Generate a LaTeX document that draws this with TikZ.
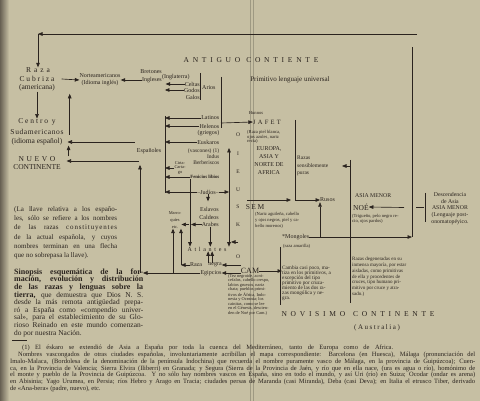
\documentclass[tikz,border=0pt]{standalone}
\usepackage{fontspec}
\setmainfont{Liberation Serif}
\usetikzlibrary{arrows.meta,positioning}
\definecolor{paper}{RGB}{198,191,163}
\definecolor{inkc}{RGB}{42,35,30}
\newcommand{\fs}[2]{\fontsize{#1}{#2}\selectfont}
\newcommand{\spaced}[2]{{\addfontfeature{LetterSpace=#1}#2}}
\newcommand{\jl}[2]{\hbox to #1{#2}}
\tikzset{
  ink/.style={draw=inkc, line width=0.65pt},
  arr/.style={ink, -{Triangle[length=4.5pt,width=3.6pt]}},
  txt/.style={inner sep=0pt, text=inkc},
  mid/.style={txt, font=\fs{7.5}{8}},
  sm/.style={txt, font=\fs{6}{7}},
  tiny/.style={txt, font=\fs{4.6}{4.8}, align=left, anchor=north west},
}
\begin{document}
\begin{tikzpicture}[x=1pt,y=-1pt]
\useasboundingbox (0,0) rectangle (480,401);
\fill[paper] (0,0) rectangle (480,401);
\shade[left color=inkc!60!paper, right color=paper] (0,0) rectangle (9,401);
\draw[paper!80!black, line width=0.4pt] (250,0) -- (250,401) (253,0) -- (253,401);

% frame points
\coordinate (topR) at (417,34);
\coordinate (topL) at (38,34);
\coordinate (vtop) at (412,47);
\coordinate (brk) at (165,150);
\coordinate (dl) at (190,0);
\coordinate (vl) at (229,0);
\coordinate (up1) at (173,0);
\coordinate (up2) at (181,0);
\coordinate (sx) at (140,0);
\coordinate (jr) at (295,120);
\coordinate (nb) at (350,0);
\coordinate (arj) at (221,123);
\coordinate (mu) at (320,237);

% new continent
\node[mid] (raza) at (38,70) {\spaced{40}{Raza}};
\node[mid] (cubriza) at (37,79) {\spaced{25}{Cubriza}};
\node[mid] (americana) at (37,88) {(americana)};
\node[mid] (centro) at (37,122) {\spaced{25}{Centro y}};
\node[mid] (sudam) at (37,132) {\spaced{8}{Sudamericanos}};
\node[mid] (idesp) at (37,142) {(idioma español)};
\node[mid] (nuevo) at (37,159) {\spaced{35}{NUEVO}};
\node[mid] (contin) at (37,167) {CONTINENTE};
\node[sm, align=center] (norteam) at (100,80) {Norteamericanos\\(Idioma inglés)};

% Arios
\node[sm, anchor=east] (bret) at (162,72) {Bretones};
\node[sm, anchor=east] (ingl) at (162,80) {Ingleses};
\node[sm, anchor=west] (inglat) at (162,77) {(Inglaterra)};
\node[sm, anchor=east] (celtas) at (200,84) {Celtas};
\node[sm, anchor=east] (godos) at (200,90) {Godos};
\node[sm, anchor=east] (galos) at (200,97) {Galos};
\node[sm, anchor=west] (arios) at (202,88) {Arios};
\draw[ink] (200.5,73) -- (200.5,100);
\draw[ink] (221,77) -- (221,128);

% races of Spain
\node[mid] (esp) at (149,151) {\fs{6}{7}Españoles};
\node[sm, anchor=east] (latinos) at (219.5,118) {Latinos};
\node[sm, anchor=east] (helenos) at (219.5,126) {Helenos};
\node[sm, anchor=east] (griegos) at (219.5,133) {(griegos)};
\node[sm, anchor=east] (euskaros) at (219.5,142) {Euskaros};
\node[sm, anchor=east, font=\fs{5.5}{6}] (vascones) at (219.5,151.5) {(vascones) (1)};
\node[sm, anchor=east, font=\fs{5.5}{6}] (indus) at (219.5,157) {Indus};
\node[sm, anchor=east, font=\fs{5.5}{6}] (berber) at (219.5,163) {Berberiscos};
\node[tiny, anchor=center, align=center, font=\fs{4.4}{4.7}] (cirta) at (180,168) {Cirta-\\Carta-\\go};
\node[sm, anchor=east, font=\bfseries\fs{4.8}{5}] (fenic) at (219.5,177) {Fenicios libios};
\node[sm] (judios) at (208,192) {–Judíos–};
\node[sm, anchor=east] (eslavos) at (219,209) {Eslavos};
\node[sm, anchor=east] (caldeos) at (219,217) {Caldeos};
\node[sm, anchor=east] (arabes) at (219,224.5) {Arabes};
\node[tiny, anchor=center, align=center, font=\fs{4.4}{7}] (marro) at (175,220) {Marro-\\quíes\\etc.};
\node[sm] (atlant) at (207,249) {\spaced{45}{Atlantes}};
\node[sm] (raza2) at (196,265) {Raza};
\node[sm] (negra) at (215,265) {negra};
\node[sm] (egip) at (211,273) {Egipcios};
\foreach \l/\y in {O/135,I/154,E/172,U/190,S/207,K/225,O/257}
  \node[txt, font=\fs{5.5}{6}] at (238,\y) {\l};

\draw[ink] (165,116) -- (165,193);
\foreach \r in {latinos,helenos,euskaros,cirta,fenic,judios}
  \draw[arr] (\r.west) -- (\r.west -| brk);
\draw[arr] (judios.east) -- (judios.east -| vl);
\draw[arr] (judios.south) -- ++(0,7);
\draw[arr] (arabes.west) -- ([xshift=1pt]arabes.west -| dl);
\draw[arr] ([xshift=-1pt]arabes.west -| dl) -- (arabes.west -| marro.east);
\draw[arr] (dl |- fenic.south) -- (dl |- atlant.north);
\draw[arr] (arabes.south) -- (arabes.south |- atlant.north);
\draw[ink, {Triangle[length=4.5pt,width=3.6pt]}-{Triangle[length=4.5pt,width=3.6pt]}] (vl |- 0,148) -- (vl |- atlant.north);
\draw[arr] (238,242) -- (231,242);
\draw[arr] (raza2.west) -- (raza2.west -| up2);
\draw[arr] (up2 |- raza2.west) -- (up2 |- marro.south);
\draw[arr] (up1 |- egip.west) -- (up1 |- marro.south);
\draw[arr] (negra.north west) -- (negra.north west |- atlant.south);
\draw[arr] ([xshift=4pt]negra.north west) -- ([xshift=4pt]negra.north west |- atlant.south);
\draw[arr] (egip.west) -- ([xshift=3pt]egip.west -| sx);
\draw[arr] (sx |- egip.west) -- ([yshift=-11pt]sx |- esp.south);

% Arios arrows
\draw[arr] (ingl.west) -- (norteam.east);
\draw[arr] (celtas.west) -- ++(-19,0);
\draw[arr] (godos.west) -- ++(-19,0);

% new continent arrows
\draw[arr] (topR) -- (topL);
\draw[arr] (topL) -- (raza.north);
\draw[arr] (americana.south) -- (centro.north);
\draw[arr] ([xshift=7pt]cubriza.east) -- (norteam.west);
\draw[arr] ([xshift=6pt]sudam.south east) -- ++(0,-41);
\draw[arr] ([shift={(-2pt,9pt)}]esp.west) -- ([xshift=5pt]idesp.east);
\draw[arr] ([shift={(2pt,-10pt)}]esp.west) -- ([shift={(11pt,-2pt)}]nuevo.east);
\draw[arr] ([xshift=13pt]nuevo.north east) -- ([xshift=13pt]nuevo.north east |- idesp.south);

% old continent
\node[txt, font=\fs{7.5}{8}] (antiguo) at (251,60) {\spaced{50}{ANTIGUO}\hspace{6pt}\spaced{50}{CONTIENTE}};
\node[txt, font=\fs{7}{8}] (primit) at (290,80) {Primitivo lenguaje universal};
\node[tiny, anchor=center, font=\fs{4.6}{5}] (hunnos) at (256,113) {Hunnos};
\node[mid, font=\fs{6.5}{7}] (jafet) at (267,122) {\spaced{35}{JAFET}};
\draw[arr] (arj) -- (jafet.west);
\node[tiny] (jdesc) at (247,130) {(Raza piel blanca,\\ojos azules, nariz\\recta)};
\node[sm, align=center, font=\fs{6}{7.7}] (europa) at (269,160.5) {EUROPA,\\ASIA Y\\NORTE DE\\AFRICA};
\node[sm, align=left, anchor=west, font=\fs{5.5}{7.5}] (puras) at (297,166) {Razas\\sensiblemente\\puras};
\node[sm, anchor=west] (rusos) at (320,200) {Rusos};
\node[mid] (sem) at (255,207) {\spaced{20}{SEM}};
\node[tiny, font=\fs{4.6}{6}] (sdesc) at (255,212) {(Nariz aguileña, cabello\\y ojos negros, piel y ca-\\bello morenos)};
\node[sm, anchor=west] (mong) at (282,237) {*Mongoles};
\node[tiny, anchor=west] (amar) at (283,246) {(raza amarilla)};
\draw[arr] (jr) |- (rusos.west);
\draw[arr, shorten >=4pt] (247,200) -- (jr |- 0,200);
\draw[arr] (nb |- puras.east) -- ++(-8,0);
\draw[arr] (mu) -- (mu |- rusos.south);
\draw[arr] (mong.east) -- (vtop |- mong.east);
\draw[ink] (vtop |- mong.east) -- (vtop);

% Noe
\node[sm, anchor=west, font=\fs{5.8}{6}] (asiam) at (355,196) {ASIA MENOR};
\node[mid, anchor=west] (noe) at (353,207) {NOÉ};
\node[tiny] (ndesc) at (352,214) {(Trigueño, pelo negro re-\\cio, ojos pardos)};
\node[sm, align=center, font=\fs{5.8}{6.7}] (desc) at (450,208.5) {Descendencia\\de Asia\\ASIA MENOR\\(Lenguaje post-\\onomatopéyico.};
\draw[ink] (425,193) -- (425,222);
\draw[ink] (424,207.5) -- (416,207.5);
\draw[arr] (404,207.5) -- (noe.east);
\draw[ink] (nb |- 0,160) -- (nb |- 0,303);

% Cam
\node[txt, font=\fs{8}{8}] (cam) at (250,271) {CAM};
\draw[arr] (cam.west |- negra.east) -- (negra.east);
\draw[arr] (cam.west |- egip.east) -- (egip.east);
\node[tiny, font=\fs{5.2}{5}] (cambia) at (282,266) {Cambia casi poco, ma-\\tiza en los primitivos, a\\excepción del tipo\\primitivo por cruza-\\miento de las dos ra-\\zas mongólica y ne-\\gra.};
\draw[arr] (cam.east) -- (cambia.west |- cam.east);
\draw[ink] (280,247) -- (280,305);
\node[tiny, font=\fs{5}{5.8}] (degen) at (352,257) {Razas degeneradas en su\\inmensa mayoría, por estar\\aisladas, como primitivas\\de ella y procedentes de\\cruces, tipo humano pri-\\mitivo por cruce y atra-\\sado.)};
\node[tiny, font=\fs{4.4}{4.5}] (cdesc) at (228,274) {(Tez negroide, acró-\\cefalos, cabello crespo,\\labios gruesos, nariz\\chata; pueblos primi-\\tivos de África, Indo-\\nesia y Oceanía; los\\cainitas, como se lee\\en el Génesis, descien-\\den de Noé por Cam.)};
\node[txt, font=\fs{7.5}{8}] (novis) at (358,314) {\spaced{50}{NOVISIMO}\hspace{8pt}\spaced{50}{CONTINENTE}};
\node[txt, font=\fs{7}{8}] (austr) at (377,328) {\spaced{22}{(Australia)}};

% notes on the left
\node[txt, anchor=north west, align=left, font=\fs{7}{9.2}] (llave) at (14,206.5) {%
\jl{103pt}{(La llave relativa a los españo-}\\
\jl{103pt}{les, sólo se refiere a los nombres}\\
\jl{103pt}{de las razas \spaced{12}{constituyentes}}\\
\jl{103pt}{de la actual española, y cuyos}\\
\jl{103pt}{nombres terminan en una flecha}\\
que no sobrepasa la llave).};
\node[txt, anchor=north west, align=left, font=\fs{7.4}{7.6}] (sinop) at (14,268.5) {%
\jl{129pt}{\bfseries\fs{8}{7.6}Sinopsis esquemática de la for-}\\
\jl{129pt}{\bfseries\fs{8}{7.6}mación, evolución y distribución}\\
\jl{129pt}{\bfseries\fs{8}{7.6}de las razas y lenguas sobre la}\\
\jl{129pt}{{\bfseries\fs{8}{7.6}tierra,} que demuestra que Dios N. S.}\\
\jl{129pt}{desde la más remota antigüedad prepa-}\\
\jl{129pt}{ró a España como «compendio univer-}\\
\jl{129pt}{sal», para el establecimiento de su Glo-}\\
\jl{129pt}{rioso Reinado en este mundo comenzan-}\\
do por nuestra Nación.};

% footnote
\draw[ink, line width=0.8pt] (12,340) -- (27,340);
\node[txt, anchor=north west, align=left, font=\fs{6.5}{5.6}] (fnote) at (10,344.5) {%
\hspace*{12pt}\jl{371pt}{(1) El éskaro se extendió de Asia a España por toda la cuenca del Mediterráneo, tanto de Europa como de Africa.}\\
\jl{465pt}{\hspace*{8pt}Nombres vascongados de otras ciudades españolas, involuntariamente acribillan el mapa correspondiente: Barcelona (en Huesca), Málaga (pronunciación del}\\
\jl{465pt}{Imalo-Malaca, (Bordolesa de la denominación de la península Indochina) que recuerda el nombre puramente vasco de Málaga, en la provincia de Guipúzcoa); Cuen-}\\
\jl{465pt}{ca, en la Provincia de Valencia; Sierra Elvira (Iliberri) en Granada; y Segura (Sierra de la Provincia de Jaén, y río que en ella nace, (ura es agua o río), homónimo de}\\
\jl{465pt}{el monte y pueblo de la Provincia de Guipúzcoa. Y no sólo hay nombres vascos en España, sino en todo el mundo, y así Uri (río) en Suiza; Ocodar (ondar es arena)}\\
\jl{465pt}{en Abisinia; Yago Urumea, en Persia; ríos Hebro y Arago en Tracia; ciudades persas de Maranda (casi Miranda), Deba (casi Deva); en Italia el etrusco Tiber, derivado}\\
de «Ana-bera» (padre, nuevo), etc.};
\end{tikzpicture}
\end{document}
